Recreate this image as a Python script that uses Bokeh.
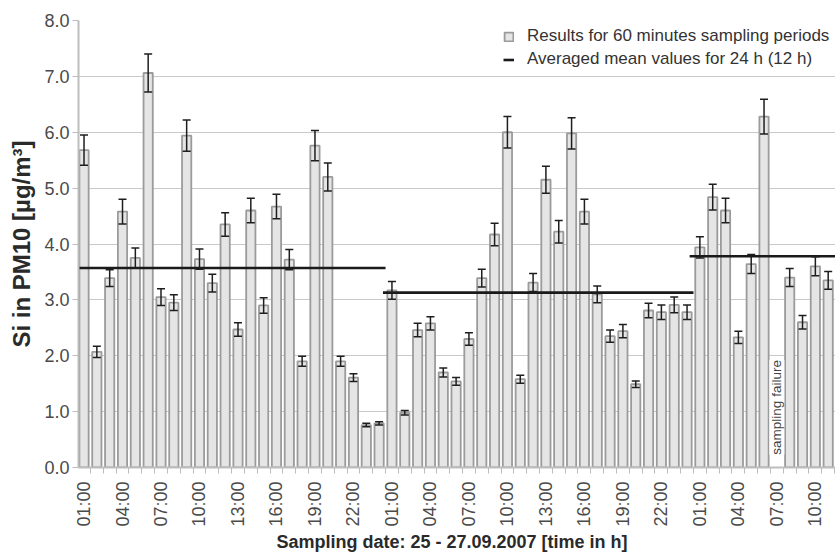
from math import pi
from bokeh.plotting import figure
from bokeh.models import (ColumnDataSource, Range1d, FixedTicker, Whisker, TeeHead,
                          Legend, LegendItem, PrintfTickFormatter)
from bokeh.core.properties import value
from bokeh.embed import file_html
from bokeh.resources import INLINE

# ---------------- data ----------------
hour_labels = ([f"{h:02d}:00" for h in range(1, 25)] +
               [f"{h:02d}:00" for h in range(1, 25)] +
               [f"{h:02d}:00" for h in range(1, 12)])

si_day1 = [5.68, 2.07, 3.39, 4.58, 3.75, 7.06, 3.05, 2.95, 5.94, 3.73, 3.30, 4.35,
           2.47, 4.60, 2.90, 4.67, 3.72, 1.90, 5.76, 5.20, 1.90, 1.61, 0.76, 0.79]
err_day1 = [0.27, 0.10, 0.15, 0.22, 0.18, 0.34, 0.15, 0.14, 0.28, 0.18, 0.16, 0.21,
            0.12, 0.22, 0.14, 0.22, 0.18, 0.09, 0.27, 0.25, 0.09, 0.07, 0.03, 0.03]

si_day2 = [3.17, 0.98, 2.46, 2.58, 1.70, 1.54, 2.30, 3.39, 4.17, 6.00, 1.58, 3.31,
           5.15, 4.22, 5.98, 4.58, 3.10, 2.35, 2.44, 1.49, 2.81, 2.78, 2.91, 2.78]
err_day2 = [0.16, 0.04, 0.12, 0.12, 0.08, 0.07, 0.11, 0.16, 0.20, 0.28, 0.07, 0.16,
            0.24, 0.20, 0.28, 0.22, 0.15, 0.11, 0.12, 0.06, 0.13, 0.13, 0.14, 0.13]

# None = sampling failure (07:00 on 27.09.)
si_day3 = [3.94, 4.84, 4.60, 2.33, 3.64, 6.28, None, 3.40, 2.60, 3.60, 3.35]
err_day3 = [0.19, 0.23, 0.22, 0.11, 0.17, 0.31, None, 0.16, 0.12, 0.17, 0.16]

mean_values = [3.57, 3.13, 3.78]          # 24 h, 24 h, 12 h
mean_start = [-0.5, 23.3, 47.2]           # in hour index
mean_end = [23.5, 47.5, 59.5]

failure_label = "sampling failure"
failure_index = 54

y_ticks = [0, 1, 2, 3, 4, 5, 6, 7, 8]

# ---------------- build ----------------
si_all = si_day1 + si_day2 + si_day3
err_all = err_day1 + err_day2 + err_day3
idx = [i for i, v in enumerate(si_all) if v is not None]
vals = [si_all[i] for i in idx]
errs = [err_all[i] for i in idx]

src = ColumnDataSource(dict(
    x=idx, top=vals,
    upper=[v + e for v, e in zip(vals, errs)],
    lower=[v - e for v, e in zip(vals, errs)],
))

FONT = "Liberation Sans"

p = figure(width=835, height=554, output_backend="svg", toolbar_location=None,
           x_range=Range1d(-0.43, 58.57), y_range=Range1d(0, 8.0),
           min_border_left=78, min_border_right=0, min_border_top=20, min_border_bottom=83)
p.outline_line_color = None
p.background_fill_color = "white"
p.border_fill_color = "white"

bars = p.vbar(x="x", top="top", width=0.72, source=src,
              fill_color="#e5e5e5", line_color="#9b9b9b", line_width=1.8)

wh = Whisker(base="x", upper="upper", lower="lower", source=src,
             line_color="#1e1e1e", line_width=1.5, level="overlay",
             upper_head=TeeHead(size=8, line_color="#1e1e1e", line_width=1.5),
             lower_head=TeeHead(size=8, line_color="#1e1e1e", line_width=1.5))
p.add_layout(wh)

means = p.segment(x0=mean_start, y0=mean_values, x1=mean_end, y1=mean_values,
                  line_color="#1a1a1a", line_width=2.6)

p.text(x=[failure_index], y=[0.23], text=[failure_label], angle=pi / 2,
       text_align="left", text_baseline="middle", text_font=value(FONT),
       text_font_size="13.5px", text_color="#444444",
       background_fill_color="white")

# axes
p.xgrid.grid_line_color = None
p.ygrid.grid_line_color = "#c9c9c9"
p.ygrid.grid_line_width = 1

p.yaxis.ticker = FixedTicker(ticks=y_ticks)
p.yaxis.formatter = PrintfTickFormatter(format="%.1f")
p.yaxis.axis_line_color = "#bdbdbd"
p.yaxis.axis_line_width = 2
p.yaxis.major_tick_line_color = "#bdbdbd"
p.yaxis.major_tick_out = 6
p.yaxis.major_tick_in = 0
p.yaxis.minor_tick_line_color = None
p.yaxis.major_label_standoff = 3
p.yaxis.major_label_text_font = FONT
p.yaxis.major_label_text_font_size = "18px"
p.yaxis.major_label_text_color = "#4a4a4a"
p.yaxis.axis_label = "Si in PM10 [µg/m³]"
p.yaxis.axis_label_text_font = FONT
p.yaxis.axis_label_text_font_style = "bold"
p.yaxis.axis_label_text_font_size = "24px"
p.yaxis.axis_label_text_color = "#2a2a2a"
p.yaxis.axis_label_standoff = 6

n = len(si_all)
major = list(range(0, n, 3))
p.xaxis.ticker = FixedTicker(ticks=major, minor_ticks=[i + 0.5 for i in range(-1, n)])
p.xaxis.major_label_overrides = {i: hour_labels[i] for i in major}
p.xaxis.major_label_orientation = pi / 2
p.xaxis.axis_line_color = "#bdbdbd"
p.xaxis.axis_line_width = 2
p.xaxis.major_tick_line_color = None
p.xaxis.major_tick_out = 6
p.xaxis.major_tick_in = 0
p.xaxis.minor_tick_line_color = "#bdbdbd"
p.xaxis.minor_tick_out = 6
p.xaxis.minor_tick_in = 0
p.xaxis.major_label_standoff = 8
p.xaxis.major_label_text_font = FONT
p.xaxis.major_label_text_font_size = "18px"
p.xaxis.major_label_text_color = "#4a4a4a"
p.xaxis.axis_label = "Sampling date:  25 - 27.09.2007  [time in h]"
p.xaxis.axis_label_text_font = FONT
p.xaxis.axis_label_text_font_style = "bold"
p.xaxis.axis_label_text_font_size = "18px"
p.xaxis.axis_label_text_color = "#2a2a2a"
p.xaxis.axis_label_standoff = 2

legend = Legend(items=[LegendItem(label="Results for 60 minutes sampling periods", renderers=[bars]),
                       LegendItem(label="Averaged mean values for 24 h (12 h)", renderers=[means])],
                location=(425, 398), padding=0, margin=0, spacing=3,
                glyph_width=11, glyph_height=11, label_height=20, label_standoff=13,
                label_text_font=FONT, label_text_font_size="17px", label_text_color="#333333",
                background_fill_alpha=0, border_line_color=None)
p.add_layout(legend)

open("out.html", "w").write(file_html(p, INLINE))
